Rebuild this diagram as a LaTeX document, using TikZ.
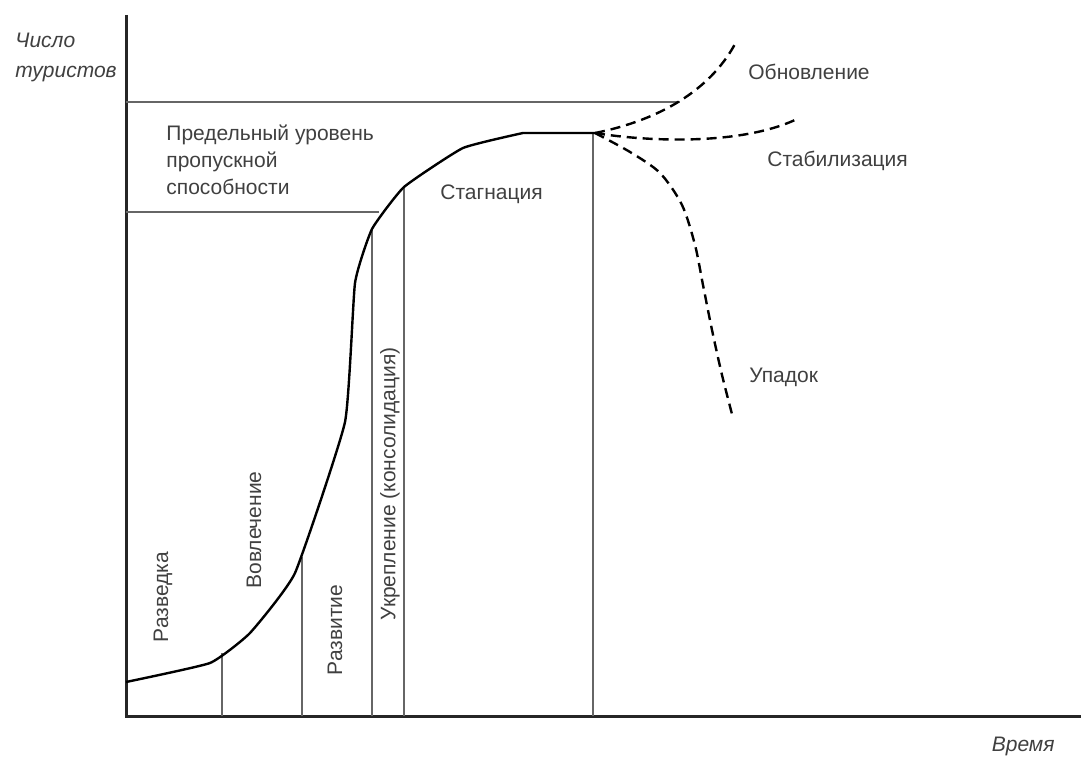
\documentclass[tikz,border=0pt]{standalone}
\usepackage{fontspec}
\setmainfont{Liberation Sans}
\usetikzlibrary{positioning}

\begin{document}
\begin{tikzpicture}[
  x=0.5pt, y=-0.5pt,
  axis/.style={line width=1.5pt, black!85},
  bound/.style={line width=0.6pt, black!60},
  lifecurve/.style={line width=1.2pt, black, line join=round},
  trend/.style={line width=1.2pt, black, dash pattern=on 5pt off 3pt},
  lbl/.style={font=\fontsize{10.5}{13.5}\selectfont, text=black!75, inner sep=0pt},
  axlbl/.style={font=\fontsize{10.5}{15}\selectfont\itshape, text=black!75, inner sep=0pt},
  stage/.style={lbl, rotate=90},
]
  \useasboundingbox (0,0) rectangle (1081,758);

  % --- Axes ---
  \coordinate (origin) at (126,716);
  \coordinate (ytop)   at (126,15);
  \coordinate (xend)   at (1081,716);
  \draw[axis] (ytop) -- (origin) -- (xend);

  % --- Capacity levels ---
  \draw[bound] (126,102) -- (680,102);
  \draw[bound] (126,212) -- (379,212);

  % --- Stage boundaries ---
  \foreach \x/\y in {222/653, 302/557, 372/229, 404/187, 593/133}
    \draw[bound] (\x,\y) -- (\x,716);

  % --- Life cycle curve ---
  \coordinate (peak) at (595,133);
  \draw[lifecurve] plot[smooth, tension=0.25] coordinates
    {(126,682) (210,663) (250,633) (295,573) (345,422) (355,283)
     (372,229) (404,187) (463,148) (523,133)} -- (peak);

  % --- Possible futures (dashed) ---
  \draw[trend] (peak) .. controls (660,120) and (710,90) .. (735,44);
  \draw[trend] (peak) .. controls (650,142) and (740,145) .. (795,120);
  \draw[trend] plot[smooth, tension=0.5] coordinates
    {(peak) (630,152) (660,173) (682,205) (695,245) (703,285)
     (712,330) (722,375) (733,418)};

  % --- Axis labels ---
  \node[axlbl, anchor=west, align=left] (tourists) at (15,57) {Число\\туристов};
  \node[axlbl, anchor=east] (time) at (1055,746) {Время};

  % --- Level and trend labels ---
  \node[lbl, anchor=west, align=left] (limit) at (166,160)
    {Предельный уровень\\пропускной\\способности};
  \node[lbl, anchor=west] (stagn) at (440,194) {Стагнация};
  \node[lbl, anchor=west] (renew) at (748,72) {Обновление};
  \node[lbl, anchor=west] (stab)  at (767,161) {Стабилизация};
  \node[lbl, anchor=west] (decl)  at (749,377) {Упадок};

  % --- Stage labels (vertical) ---
  \node[stage] (explore) at (163,597) {Разведка};
  \node[stage] (involve) at (254,530) {Вовлечение};
  \node[stage] (develop) at (335,630) {Развитие};
  \node[stage] (consol)  at (390,484) {Укрепление (консолидация)};

\end{tikzpicture}
\end{document}
